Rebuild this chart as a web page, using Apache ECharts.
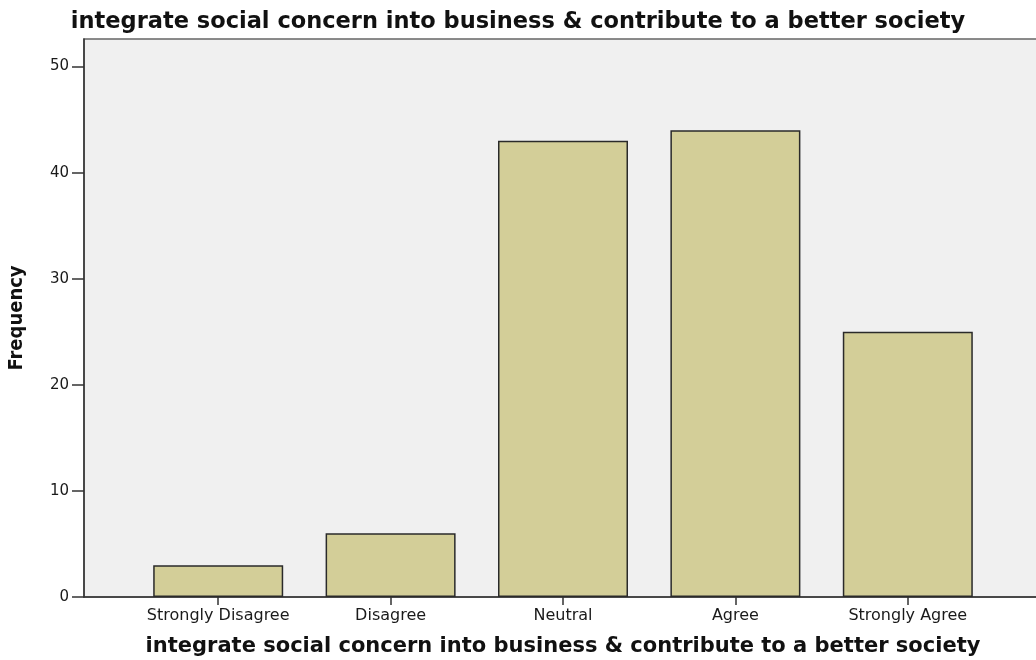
<!DOCTYPE html>
<html>
<head>
<meta charset="utf-8">
<script src="https://cdn.jsdelivr.net/npm/echarts@6/dist/echarts.min.js"></script>
<style>
  html, body { margin: 0; padding: 0; background: #fff; }
  #chart { width: 1036px; height: 660px; }
</style>
</head>
<body>
<div id="chart"></div>
<script>
const categories = ['Strongly Disagree', 'Disagree', 'Neutral', 'Agree', 'Strongly Agree'];
const frequencies = [3, 6, 43, 44, 25];
const yTicks = [0, 10, 20, 30, 40, 50];

const titleText = 'integrate social concern into business & contribute to a better society';

const chart = echarts.init(document.getElementById('chart'), null, { renderer: 'canvas' });

chart.setOption({
  animation: false,
  title: {
    text: titleText,
    left: 'center',
    top: 6,
    textStyle: {
      fontFamily: 'DejaVu Sans, Verdana, sans-serif',
      fontWeight: 'bold',
      fontSize: 22.5,
      color: '#111'
    }
  },
  grid: [
    // frame + y axis
    {
      left: 84, top: 39, right: -6, bottom: 63,
      outerBoundsMode: 'none',
      containLabel: false,
      show: true,
      backgroundColor: '#f0f0f0',
      borderColor: '#666',
      borderWidth: 1.5
    },
    // bars
    { left: 132, top: 39, right: 42, bottom: 63, outerBoundsMode: 'none', containLabel: false }
  ],
  xAxis: [
    {
      gridIndex: 0,
      type: 'value',
      min: 0, max: 1,
      axisLine: { show: true, lineStyle: { color: '#333', width: 1.5 } },
      axisTick: { show: false },
      axisLabel: { show: false },
      splitLine: { show: false }
    },
    {
      gridIndex: 1,
      type: 'category',
      data: categories,
      boundaryGap: true,
      axisLine: { show: false },
      axisTick: {
        show: true, alignWithLabel: true, length: 8, interval: 0,
        lineStyle: { color: '#333', width: 1.5 }
      },
      axisLabel: {
        interval: 0,
        hideOverlap: false,
        margin: 11,
        fontFamily: 'DejaVu Sans, Verdana, sans-serif',
        fontSize: 16,
        color: '#1a1a1a'
      },
      name: titleText,
      nameLocation: 'middle',
      nameGap: 39,
      nameTextStyle: {
        fontFamily: 'DejaVu Sans, Verdana, sans-serif',
        fontWeight: 'bold',
        fontSize: 21,
        color: '#111'
      }
    }
  ],
  yAxis: [
    {
      gridIndex: 0,
      type: 'value',
      min: 0, max: 52.6, interval: 10,
      axisLine: { show: true, lineStyle: { color: '#333', width: 1.5 } },
      axisTick: {
        show: true, length: 12, customValues: yTicks,
        lineStyle: { color: '#333', width: 1.5 }
      },
      axisLabel: {
        customValues: yTicks,
        margin: 15,
        fontFamily: 'DejaVu Sans, Verdana, sans-serif',
        fontSize: 15,
        color: '#1a1a1a'
      },
      splitLine: { show: false },
      name: 'Frequency',
      nameLocation: 'middle',
      nameGap: 57,
      nameRotate: 90,
      nameTextStyle: {
        fontFamily: 'DejaVu Sans Condensed, Liberation Sans, Arial, sans-serif',
        fontWeight: 'bold',
        fontSize: 20,
        color: '#111'
      }
    },
    {
      gridIndex: 1,
      type: 'value',
      min: 0, max: 52.6,
      show: false
    }
  ],
  series: [
    {
      type: 'bar',
      xAxisIndex: 1,
      yAxisIndex: 1,
      data: frequencies,
      barWidth: 130,
      itemStyle: {
        color: '#d3ce98',
        borderColor: '#2a2a2a',
        borderWidth: 1.5
      }
    }
  ]
});
</script>
</body>
</html>
